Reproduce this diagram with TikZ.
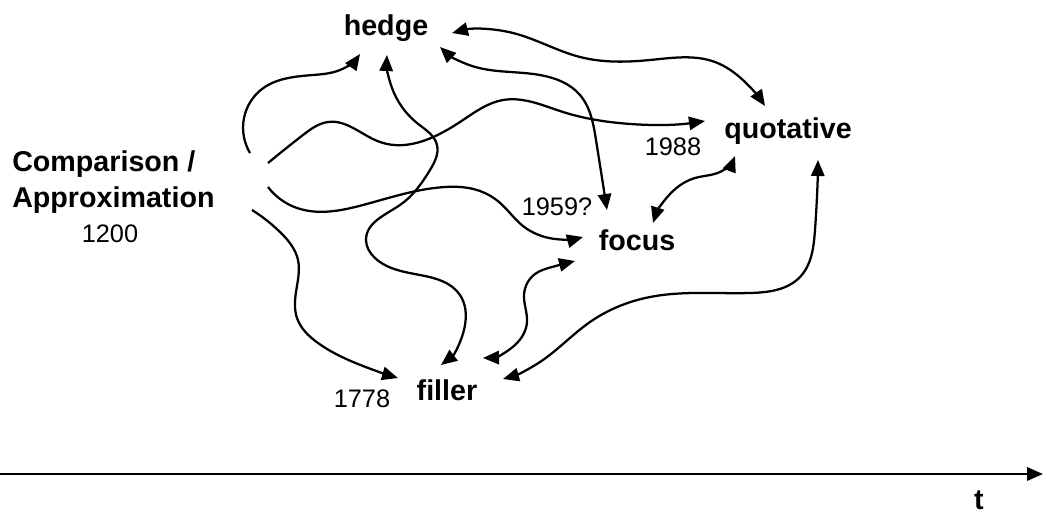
\documentclass[tikz,border=0pt]{standalone}
\usepackage{fontspec}
\setmainfont{Liberation Sans}
\usetikzlibrary{arrows.meta,hobby}
\begin{document}
\begin{tikzpicture}[x=0.75pt,y=-0.75pt,
  term/.style={font=\fontsize{21.5}{27}\selectfont\bfseries, inner sep=0pt, anchor=base},
  year/.style={font=\fontsize{19}{22}\selectfont, inner sep=0pt, anchor=base},
  link/.style={line width=1.7pt, use Hobby shortcut},
  >={Triangle[length=12pt,width=10pt]}]
\useasboundingbox (0,0) rectangle (1043,515);

% stages of the semantic development
\node[term, anchor=north west, align=left] (comp) at (12,150) {Comparison /\\Approximation};
\node[year] (y1200) at (110,242) {1200};
\node[term] (hedge) at (386,35) {hedge};
\node[term] (quot) at (788,138) {quotative};
\node[year] (y1988) at (673,155) {1988};
\node[term] (focus) at (637,250) {focus};
\node[year] (y1959) at (557,215) {1959?};
\node[term] (filler) at (447,400) {filler};
\node[year] (y1778) at (362,407) {1778};

% paths out of the comparison sense
\draw[link,->] ([shift={(238,3)}]comp.north west) .. (244,118) .. (262,89) .. (313,75) .. (340,70) .. ([shift={(-26,19)}]hedge.base);
\draw[link,->] ([shift={(256,13)}]comp.north west) .. (303,135) .. (328,122) .. (380,142) .. (463,120) .. (503,100) .. (563,112) .. (610,122) .. ([shift={(-83,-17)}]quot.base);
\draw[link,->] ([shift={(256,37)}]comp.north west) .. (297,208) .. (363,205) .. (445,187) .. (477,190) .. (499,202) .. (523,226) .. (555,239) .. ([shift={(-54,-13)}]focus.base);
\draw[link,->] ([shift={(240,60)}]comp.north west) .. (280,232) .. (298,260) .. (296,292) .. (297,318) .. (318,343) .. (363,366) .. ([shift={(-49,-22)}]filler.base);

% links between the later senses
\draw[link,<->] ([shift={(66,-2)}]hedge.base) .. (513,33) .. (580,57) .. (650,60) .. (715,62) .. (745,82) .. ([shift={(-23,-32)}]quot.base);
\draw[link,<->] ([shift={(54,12)}]hedge.base) .. (472,66) .. (540,75) .. (580,95) .. (596,140) .. ([shift={(-30,-40)}]focus.base);
\draw[link,<->] ([shift={(1,20)}]hedge.base) .. (392,88) .. (417,123) .. (437,145) .. (430,170) .. (400,205) .. (366,240) .. (375,258) .. (420,275) .. (460,295) .. (465,325) .. ([shift={(-6,-35)}]filler.base);
\draw[link,<->] ([shift={(36,-42)}]filler.base) .. (515,345) .. (527,322) .. (524,295) .. (535,274) .. (552,267) .. ([shift={(-62,11)}]focus.base);
\draw[link,<->] ([shift={(56,-21)}]filler.base) .. (540,362) .. (590,322) .. (650,297) .. (750,293) .. (800,277) .. (815,230) .. ([shift={(30,22)}]quot.base);
\draw[link,<->] ([shift={(16,-27)}]focus.base) .. (670,194) .. (695,178) .. (720,172) .. ([shift={(-53,18)}]quot.base);

% time axis
\coordinate (t0) at (0,474);
\coordinate (t1) at (1043,474);
\draw[line width=1.7pt,->] (t0) -- (t1);
\node[term] (t) at (979,509) {t};
\end{tikzpicture}
\end{document}
